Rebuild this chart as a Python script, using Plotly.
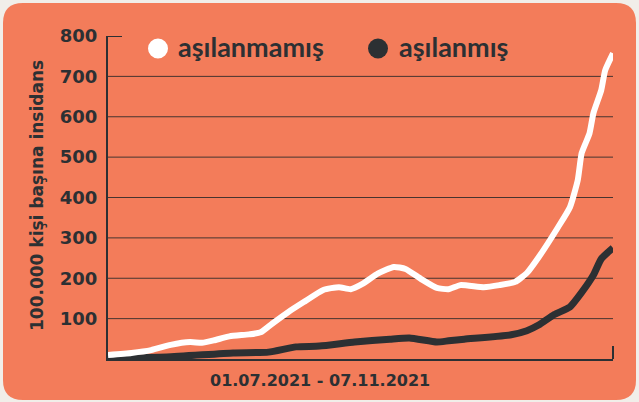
import plotly.graph_objects as go
import pandas as pd

# ---- data ----
start_date = "2021-07-01"
end_date = "2021-11-07"

unvacc_days = [0, 6, 11, 16, 21, 24, 27, 31, 36, 39, 42, 46, 50, 55, 59, 62, 65, 69, 73, 76,
               80, 84, 87, 90, 96, 100, 104, 107, 110, 115, 118, 120, 121, 123, 124, 126, 127, 129]
unvacc_vals = [10, 15, 22, 35, 42, 40, 46, 56, 61, 66, 88, 116, 141, 171, 178, 173, 186, 212, 228, 223,
               198, 176, 173, 183, 178, 183, 191, 213, 252, 327, 376, 443, 510, 559, 609, 666, 715, 757]

vacc_days = [0, 15, 32, 41, 48, 54, 63, 72, 77, 84, 87, 91, 103, 107, 110, 114, 118, 121, 124, 126, 129]
vacc_vals = [2, 5, 15, 17, 30, 32, 42, 49, 52, 42, 45, 49, 60, 70, 84, 110, 129, 165, 208, 248, 275]

series_names = ["aşılanmamış", "aşılanmış"]
y_ticks = [100, 200, 300, 400, 500, 600, 700, 800]
x_title = "01.07.2021 - 07.11.2021"
y_title = "100.000 kişi başına insidans"

# ---- styles ----
BG = "#F37C5A"
PAGE = "#F1EEE9"
DARK = "#2C3033"
WHITE = "#FFFFFF"

W, H = 639, 402
L, R, T, B = 108, 26, 36, 43
PW, PH = W - L - R, H - T - B


def px(x):
    return (x - L) / PW


def py(y):
    return (H - B - y) / PH


base = pd.Timestamp(start_date)
ux = [base + pd.Timedelta(days=d) for d in unvacc_days]
vx = [base + pd.Timedelta(days=d) for d in vacc_days]

fig = go.Figure()
fig.add_trace(go.Scatter(x=vx, y=vacc_vals, mode="lines", name=series_names[1],
                         line=dict(color=DARK, width=7, shape="spline", smoothing=0.5),
                         showlegend=False, hoverinfo="skip"))
fig.add_trace(go.Scatter(x=ux, y=unvacc_vals, mode="lines", name=series_names[0],
                         line=dict(color=WHITE, width=6, shape="spline", smoothing=0.5),
                         showlegend=False, hoverinfo="skip"))

shapes = []
# rounded background panel
x0, x1, y0, y1, r = 3, 636, 3, 400, 20
path = (f"M {px(x0 + r)},{py(y0)} L {px(x1 - r)},{py(y0)} Q {px(x1)},{py(y0)} {px(x1)},{py(y0 + r)} "
        f"L {px(x1)},{py(y1 - r)} Q {px(x1)},{py(y1)} {px(x1 - r)},{py(y1)} "
        f"L {px(x0 + r)},{py(y1)} Q {px(x0)},{py(y1)} {px(x0)},{py(y1 - r)} "
        f"L {px(x0)},{py(y0 + r)} Q {px(x0)},{py(y0)} {px(x0 + r)},{py(y0)} Z")
shapes.append(dict(type="path", path=path, xref="paper", yref="paper",
                   fillcolor=BG, line=dict(width=0), layer="below"))
# gridlines
for v in y_ticks[:-1]:
    shapes.append(dict(type="line", xref="paper", yref="y", x0=0, x1=1, y0=v, y1=v,
                       line=dict(color="rgba(40,40,40,0.85)", width=1), layer="below"))
# top tick mark
shapes.append(dict(type="line", xref="paper", yref="y", x0=0, x1=14 / PW, y0=y_ticks[-1], y1=y_ticks[-1],
                   line=dict(color=DARK, width=2)))
# right end tick on x axis
shapes.append(dict(type="line", xref="paper", yref="paper", x0=1, x1=1, y0=0, y1=13 / PH,
                   line=dict(color=DARK, width=2)))
# legend circles
for cx, col in [(158, WHITE), (378, DARK)]:
    shapes.append(dict(type="circle", xref="paper", yref="paper", xsizemode="pixel", ysizemode="pixel",
                       xanchor=px(cx), yanchor=py(48.5), x0=-10, x1=10, y0=-10, y1=10,
                       fillcolor=col, line=dict(width=0)))

annotations = [
    dict(text=series_names[0], xref="paper", yref="paper", x=px(176), y=py(47), xanchor="left",
         yanchor="middle", showarrow=False, font=dict(family="Lato", size=27, color=DARK, weight="bold")),
    dict(text=series_names[1], xref="paper", yref="paper", x=px(397), y=py(47), xanchor="left",
         yanchor="middle", showarrow=False, font=dict(family="Lato", size=27, color=DARK, weight="bold")),
    dict(text=x_title, xref="paper", yref="paper", x=px(320), y=py(381), xanchor="center",
         yanchor="middle", showarrow=False, font=dict(family="DejaVu Sans", size=16, color=DARK, weight="bold")),
    dict(text=y_title, xref="paper", yref="paper", x=px(37), y=py(196), xanchor="center",
         yanchor="middle", textangle=-90, showarrow=False,
         font=dict(family="DejaVu Sans", size=17, color=DARK, weight="bold")),
]

fig.update_layout(
    width=W, height=H,
    margin=dict(l=L, r=R, t=T, b=B),
    paper_bgcolor=PAGE,
    plot_bgcolor="rgba(0,0,0,0)",
    shapes=shapes,
    annotations=annotations,
    showlegend=False,
    xaxis=dict(type="date", range=[start_date, end_date], showgrid=False, zeroline=False,
               showticklabels=False, showline=True, linecolor=DARK, linewidth=2, ticks=""),
    yaxis=dict(range=[0, 800], tickvals=y_ticks, ticktext=[str(v) for v in y_ticks],
               showgrid=False, zeroline=False, showline=True, linecolor=DARK, linewidth=2,
               ticks="", ticklabelstandoff=5,
               tickfont=dict(family="DejaVu Sans", size=18, color=DARK, weight="bold")),
)

fig.write_html("out.html", config={"displayModeBar": False},
               post_script="document.body.style.margin='0';document.body.style.background='" + PAGE + "';")
